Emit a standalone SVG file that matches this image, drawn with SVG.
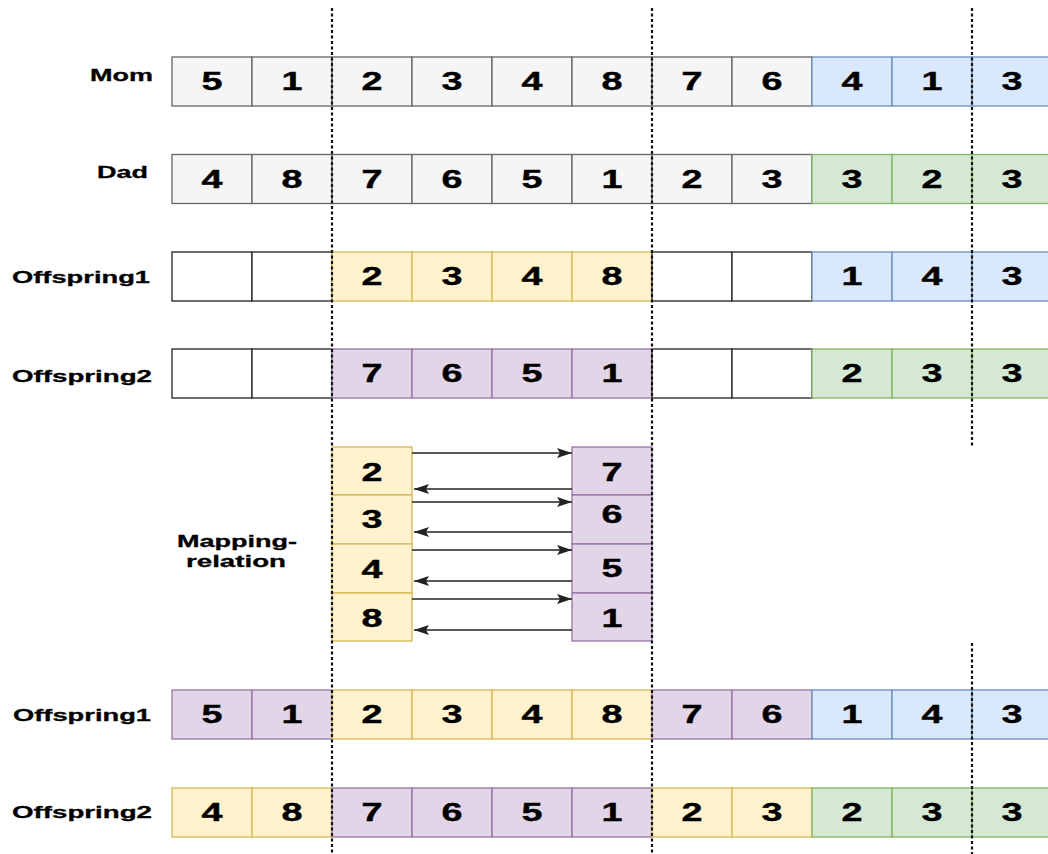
<svg xmlns="http://www.w3.org/2000/svg" width="1048" height="854" viewBox="0 0 1048 854">
<style>
text{font-family:"Liberation Sans",Arial,sans-serif;font-weight:bold;fill:#000;stroke:#000;stroke-width:0.4}
.d{font-size:25px;text-anchor:middle}
.l{font-size:17px;stroke-width:0.3}
rect{stroke-width:1.3}
.g{fill:#f5f5f5;stroke:#666666}
.b{fill:#dae8fc;stroke:#6c8ebf}
.gr{fill:#d5e8d4;stroke:#82b366}
.y{fill:#fff2cc;stroke:#d6b656}
.p{fill:#e1d5e7;stroke:#9673a6}
.w{fill:#ffffff;stroke:#222222}
.dot{stroke:#111;stroke-width:2.2;stroke-dasharray:3 2.5;fill:none}
.arr{stroke:#222;stroke-width:1.5;fill:none;marker-end:url(#ah)}
</style>
<defs>
<marker id="ah" markerUnits="userSpaceOnUse" markerWidth="16" markerHeight="11" refX="15" refY="5" orient="auto">
<path d="M0,0 L15,5 L0,10 L3,5 Z" fill="#222"/>
</marker>
</defs>
<rect width="1048" height="854" fill="#ffffff" style="stroke:none"/>

<g id="labels">
<text class="l" x="90" y="81" textLength="63" lengthAdjust="spacingAndGlyphs">Mom</text>
<text class="l" x="97" y="178" textLength="51" lengthAdjust="spacingAndGlyphs">Dad</text>
<text class="l" x="12" y="283" textLength="138" lengthAdjust="spacingAndGlyphs">Offspring1</text>
<text class="l" x="12" y="382" textLength="140" lengthAdjust="spacingAndGlyphs">Offspring2</text>
<text class="l" x="13" y="721" textLength="138" lengthAdjust="spacingAndGlyphs">Offspring1</text>
<text class="l" x="12" y="818" textLength="140" lengthAdjust="spacingAndGlyphs">Offspring2</text>
<text class="l" x="177" y="547" textLength="120" lengthAdjust="spacingAndGlyphs">Mapping-</text>
<text class="l" x="186" y="567" textLength="100" lengthAdjust="spacingAndGlyphs">relation</text>
</g>

<g id="mom">
<rect class="g" x="172" y="57" width="80" height="49"/><text class="d" x="212" y="90" textLength="21" lengthAdjust="spacingAndGlyphs">5</text>
<rect class="g" x="252" y="57" width="80" height="49"/><text class="d" x="292" y="90" textLength="21" lengthAdjust="spacingAndGlyphs">1</text>
<rect class="g" x="332" y="57" width="80" height="49"/><text class="d" x="372" y="90" textLength="21" lengthAdjust="spacingAndGlyphs">2</text>
<rect class="g" x="412" y="57" width="80" height="49"/><text class="d" x="452" y="90" textLength="21" lengthAdjust="spacingAndGlyphs">3</text>
<rect class="g" x="492" y="57" width="80" height="49"/><text class="d" x="532" y="90" textLength="21" lengthAdjust="spacingAndGlyphs">4</text>
<rect class="g" x="572" y="57" width="80" height="49"/><text class="d" x="612" y="90" textLength="21" lengthAdjust="spacingAndGlyphs">8</text>
<rect class="g" x="652" y="57" width="80" height="49"/><text class="d" x="692" y="90" textLength="21" lengthAdjust="spacingAndGlyphs">7</text>
<rect class="g" x="732" y="57" width="80" height="49"/><text class="d" x="772" y="90" textLength="21" lengthAdjust="spacingAndGlyphs">6</text>
<rect class="b" x="812" y="57" width="80" height="49"/><text class="d" x="852" y="90" textLength="21" lengthAdjust="spacingAndGlyphs">4</text>
<rect class="b" x="892" y="57" width="80" height="49"/><text class="d" x="932" y="90" textLength="21" lengthAdjust="spacingAndGlyphs">1</text>
<rect class="b" x="972" y="57" width="80" height="49"/><text class="d" x="1012" y="90" textLength="21" lengthAdjust="spacingAndGlyphs">3</text>
</g>

<g id="dad">
<rect class="g" x="172" y="154.5" width="80" height="49"/><text class="d" x="212" y="187.5" textLength="21" lengthAdjust="spacingAndGlyphs">4</text>
<rect class="g" x="252" y="154.5" width="80" height="49"/><text class="d" x="292" y="187.5" textLength="21" lengthAdjust="spacingAndGlyphs">8</text>
<rect class="g" x="332" y="154.5" width="80" height="49"/><text class="d" x="372" y="187.5" textLength="21" lengthAdjust="spacingAndGlyphs">7</text>
<rect class="g" x="412" y="154.5" width="80" height="49"/><text class="d" x="452" y="187.5" textLength="21" lengthAdjust="spacingAndGlyphs">6</text>
<rect class="g" x="492" y="154.5" width="80" height="49"/><text class="d" x="532" y="187.5" textLength="21" lengthAdjust="spacingAndGlyphs">5</text>
<rect class="g" x="572" y="154.5" width="80" height="49"/><text class="d" x="612" y="187.5" textLength="21" lengthAdjust="spacingAndGlyphs">1</text>
<rect class="g" x="652" y="154.5" width="80" height="49"/><text class="d" x="692" y="187.5" textLength="21" lengthAdjust="spacingAndGlyphs">2</text>
<rect class="g" x="732" y="154.5" width="80" height="49"/><text class="d" x="772" y="187.5" textLength="21" lengthAdjust="spacingAndGlyphs">3</text>
<rect class="gr" x="812" y="154.5" width="80" height="49"/><text class="d" x="852" y="187.5" textLength="21" lengthAdjust="spacingAndGlyphs">3</text>
<rect class="gr" x="892" y="154.5" width="80" height="49"/><text class="d" x="932" y="187.5" textLength="21" lengthAdjust="spacingAndGlyphs">2</text>
<rect class="gr" x="972" y="154.5" width="80" height="49"/><text class="d" x="1012" y="187.5" textLength="21" lengthAdjust="spacingAndGlyphs">3</text>
</g>

<g id="offspring1-a">
<rect class="w" x="172" y="252" width="80" height="49"/>
<rect class="w" x="252" y="252" width="80" height="49"/>
<rect class="y" x="332" y="252" width="80" height="49"/><text class="d" x="372" y="285" textLength="21" lengthAdjust="spacingAndGlyphs">2</text>
<rect class="y" x="412" y="252" width="80" height="49"/><text class="d" x="452" y="285" textLength="21" lengthAdjust="spacingAndGlyphs">3</text>
<rect class="y" x="492" y="252" width="80" height="49"/><text class="d" x="532" y="285" textLength="21" lengthAdjust="spacingAndGlyphs">4</text>
<rect class="y" x="572" y="252" width="80" height="49"/><text class="d" x="612" y="285" textLength="21" lengthAdjust="spacingAndGlyphs">8</text>
<rect class="w" x="652" y="252" width="80" height="49"/>
<rect class="w" x="732" y="252" width="80" height="49"/>
<rect class="b" x="812" y="252" width="80" height="49"/><text class="d" x="852" y="285" textLength="21" lengthAdjust="spacingAndGlyphs">1</text>
<rect class="b" x="892" y="252" width="80" height="49"/><text class="d" x="932" y="285" textLength="21" lengthAdjust="spacingAndGlyphs">4</text>
<rect class="b" x="972" y="252" width="80" height="49"/><text class="d" x="1012" y="285" textLength="21" lengthAdjust="spacingAndGlyphs">3</text>
</g>

<g id="offspring2-a">
<rect class="w" x="172" y="349" width="80" height="49"/>
<rect class="w" x="252" y="349" width="80" height="49"/>
<rect class="p" x="332" y="349" width="80" height="49"/><text class="d" x="372" y="382" textLength="21" lengthAdjust="spacingAndGlyphs">7</text>
<rect class="p" x="412" y="349" width="80" height="49"/><text class="d" x="452" y="382" textLength="21" lengthAdjust="spacingAndGlyphs">6</text>
<rect class="p" x="492" y="349" width="80" height="49"/><text class="d" x="532" y="382" textLength="21" lengthAdjust="spacingAndGlyphs">5</text>
<rect class="p" x="572" y="349" width="80" height="49"/><text class="d" x="612" y="382" textLength="21" lengthAdjust="spacingAndGlyphs">1</text>
<rect class="w" x="652" y="349" width="80" height="49"/>
<rect class="w" x="732" y="349" width="80" height="49"/>
<rect class="gr" x="812" y="349" width="80" height="49"/><text class="d" x="852" y="382" textLength="21" lengthAdjust="spacingAndGlyphs">2</text>
<rect class="gr" x="892" y="349" width="80" height="49"/><text class="d" x="932" y="382" textLength="21" lengthAdjust="spacingAndGlyphs">3</text>
<rect class="gr" x="972" y="349" width="80" height="49"/><text class="d" x="1012" y="382" textLength="21" lengthAdjust="spacingAndGlyphs">3</text>
</g>

<g id="map-left">
<rect class="y" x="332" y="447" width="80" height="48"/><text class="d" x="372" y="481" textLength="21" lengthAdjust="spacingAndGlyphs">2</text>
<rect class="y" x="332" y="495" width="80" height="49"/><text class="d" x="372" y="528" textLength="21" lengthAdjust="spacingAndGlyphs">3</text>
<rect class="y" x="332" y="544" width="80" height="49"/><text class="d" x="372" y="578" textLength="21" lengthAdjust="spacingAndGlyphs">4</text>
<rect class="y" x="332" y="593" width="80" height="48"/><text class="d" x="372" y="627" textLength="21" lengthAdjust="spacingAndGlyphs">8</text>
</g>

<g id="map-right">
<rect class="p" x="572" y="447" width="80" height="48"/><text class="d" x="612" y="481" textLength="21" lengthAdjust="spacingAndGlyphs">7</text>
<rect class="p" x="572" y="495" width="80" height="49"/><text class="d" x="612" y="523" textLength="21" lengthAdjust="spacingAndGlyphs">6</text>
<rect class="p" x="572" y="544" width="80" height="49"/><text class="d" x="612" y="577" textLength="21" lengthAdjust="spacingAndGlyphs">5</text>
<rect class="p" x="572" y="593" width="80" height="48"/><text class="d" x="612" y="627" textLength="21" lengthAdjust="spacingAndGlyphs">1</text>
</g>

<g id="offspring1-b">
<rect class="p" x="172" y="690" width="80" height="49"/><text class="d" x="212" y="723" textLength="21" lengthAdjust="spacingAndGlyphs">5</text>
<rect class="p" x="252" y="690" width="80" height="49"/><text class="d" x="292" y="723" textLength="21" lengthAdjust="spacingAndGlyphs">1</text>
<rect class="y" x="332" y="690" width="80" height="49"/><text class="d" x="372" y="723" textLength="21" lengthAdjust="spacingAndGlyphs">2</text>
<rect class="y" x="412" y="690" width="80" height="49"/><text class="d" x="452" y="723" textLength="21" lengthAdjust="spacingAndGlyphs">3</text>
<rect class="y" x="492" y="690" width="80" height="49"/><text class="d" x="532" y="723" textLength="21" lengthAdjust="spacingAndGlyphs">4</text>
<rect class="y" x="572" y="690" width="80" height="49"/><text class="d" x="612" y="723" textLength="21" lengthAdjust="spacingAndGlyphs">8</text>
<rect class="p" x="652" y="690" width="80" height="49"/><text class="d" x="692" y="723" textLength="21" lengthAdjust="spacingAndGlyphs">7</text>
<rect class="p" x="732" y="690" width="80" height="49"/><text class="d" x="772" y="723" textLength="21" lengthAdjust="spacingAndGlyphs">6</text>
<rect class="b" x="812" y="690" width="80" height="49"/><text class="d" x="852" y="723" textLength="21" lengthAdjust="spacingAndGlyphs">1</text>
<rect class="b" x="892" y="690" width="80" height="49"/><text class="d" x="932" y="723" textLength="21" lengthAdjust="spacingAndGlyphs">4</text>
<rect class="b" x="972" y="690" width="80" height="49"/><text class="d" x="1012" y="723" textLength="21" lengthAdjust="spacingAndGlyphs">3</text>
</g>

<g id="offspring2-b">
<rect class="y" x="172" y="788" width="80" height="49"/><text class="d" x="212" y="821" textLength="21" lengthAdjust="spacingAndGlyphs">4</text>
<rect class="y" x="252" y="788" width="80" height="49"/><text class="d" x="292" y="821" textLength="21" lengthAdjust="spacingAndGlyphs">8</text>
<rect class="p" x="332" y="788" width="80" height="49"/><text class="d" x="372" y="821" textLength="21" lengthAdjust="spacingAndGlyphs">7</text>
<rect class="p" x="412" y="788" width="80" height="49"/><text class="d" x="452" y="821" textLength="21" lengthAdjust="spacingAndGlyphs">6</text>
<rect class="p" x="492" y="788" width="80" height="49"/><text class="d" x="532" y="821" textLength="21" lengthAdjust="spacingAndGlyphs">5</text>
<rect class="p" x="572" y="788" width="80" height="49"/><text class="d" x="612" y="821" textLength="21" lengthAdjust="spacingAndGlyphs">1</text>
<rect class="y" x="652" y="788" width="80" height="49"/><text class="d" x="692" y="821" textLength="21" lengthAdjust="spacingAndGlyphs">2</text>
<rect class="y" x="732" y="788" width="80" height="49"/><text class="d" x="772" y="821" textLength="21" lengthAdjust="spacingAndGlyphs">3</text>
<rect class="gr" x="812" y="788" width="80" height="49"/><text class="d" x="852" y="821" textLength="21" lengthAdjust="spacingAndGlyphs">2</text>
<rect class="gr" x="892" y="788" width="80" height="49"/><text class="d" x="932" y="821" textLength="21" lengthAdjust="spacingAndGlyphs">3</text>
<rect class="gr" x="972" y="788" width="80" height="49"/><text class="d" x="1012" y="821" textLength="21" lengthAdjust="spacingAndGlyphs">3</text>
</g>

<g id="cut-lines">
<line class="dot" x1="332" y1="8" x2="332" y2="854"/>
<line class="dot" x1="652" y1="8" x2="652" y2="854"/>
<line class="dot" x1="972" y1="8" x2="972" y2="447"/>
<line class="dot" x1="972" y1="643" x2="972" y2="854"/>
</g>

<g id="connectors">
<line class="arr" x1="412" y1="453" x2="572" y2="453"/>
<line class="arr" x1="572" y1="489" x2="414" y2="489"/>
<line class="arr" x1="412" y1="502" x2="572" y2="502"/>
<line class="arr" x1="572" y1="532" x2="414" y2="532"/>
<line class="arr" x1="412" y1="550" x2="572" y2="550"/>
<line class="arr" x1="572" y1="581" x2="414" y2="581"/>
<line class="arr" x1="412" y1="599" x2="572" y2="599"/>
<line class="arr" x1="572" y1="630" x2="414" y2="630"/>
</g>
</svg>
